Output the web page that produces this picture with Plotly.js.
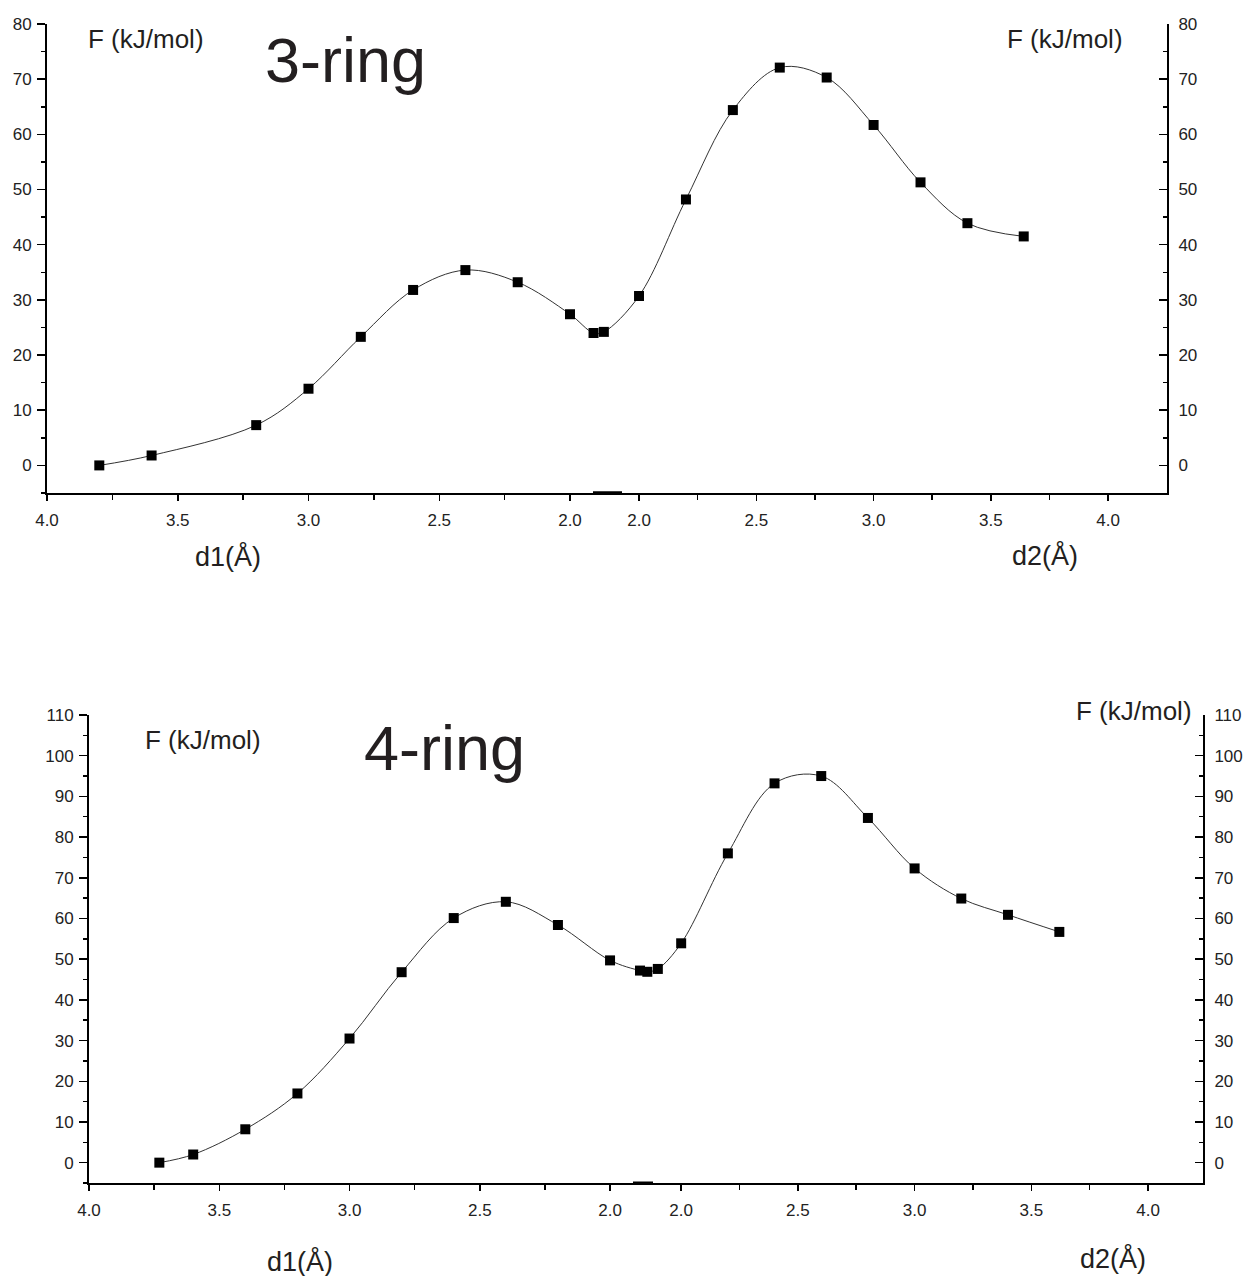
<!DOCTYPE html>
<html>
<head>
<meta charset="utf-8">
<script src="https://cdn.plot.ly/plotly-3.0.1.min.js"></script>
<style>html,body{margin:0;padding:0;background:#fff}#chart{width:1248px;height:1276px}</style>
</head>
<body>
<div id="chart"></div>
<script>
// ---- data: 3-ring ----
const ring3_d1 = [3.8, 3.6, 3.2, 3.0, 2.8, 2.6, 2.4, 2.2, 2.0, 1.91];
const ring3_F1 = [0.0, 1.8, 7.3, 13.9, 23.3, 31.8, 35.4, 33.2, 27.4, 24.0];
const ring3_d2 = [1.85, 2.0, 2.2, 2.4, 2.6, 2.8, 3.0, 3.2, 3.4, 3.64];
const ring3_F2 = [24.2, 30.7, 48.2, 64.4, 72.1, 70.3, 61.7, 51.3, 43.9, 41.5];
// ---- data: 4-ring ----
const ring4_d1 = [3.73, 3.6, 3.4, 3.2, 3.0, 2.8, 2.6, 2.4, 2.2, 2.0, 1.885];
const ring4_F1 = [0.0, 2.0, 8.2, 17.0, 30.5, 46.8, 60.1, 64.1, 58.4, 49.7, 47.2];
const ring4_d2 = [1.855, 1.90, 2.0, 2.2, 2.4, 2.6, 2.8, 3.0, 3.2, 3.4, 3.62];
const ring4_F2 = [46.9, 47.6, 53.9, 76.0, 93.2, 95.0, 84.7, 72.3, 64.9, 60.9, 56.7];
// ---- tick labels ----
const d1Ticks = [4.0, 3.5, 3.0, 2.5, 2.0];
const d2Ticks = [2.0, 2.5, 3.0, 3.5, 4.0];
const d1Minor = [3.75, 3.25, 2.75, 2.25];
const d2Minor = [2.25, 2.75, 3.25, 3.75];
const panelTitles = ["3-ring", "4-ring"];
const yLabel = "F (kJ/mol)";
const xLabel1 = "d1(Å)";
const xLabel2 = "d2(Å)";

// broken-axis geometry (left segment in d1 units, right segment scaled)
const geo = [
  {start: 4.0, gap: 2.264, r: 0.897, end: 4.283},
  {start: 4.0, gap: 2.273, r: 0.896, end: 4.276}
];
const sLeft = (d, g) => g.start - d;
const sRight = (d, g) => g.gap + (d - 2.0) * g.r;

const W = 1248, H = 1276;
const px = x => x / W, py = y => 1 - y / H;
const FONT = "Liberation Sans, Arial, sans-serif";

function curve(d1, F1, d2, F2, g, xa, ya) {
  const xs = d1.map(d => sLeft(d, g)).concat(d2.map(d => sRight(d, g)));
  const ys = F1.concat(F2);
  return [
    {x: xs, y: ys, xaxis: xa, yaxis: ya, mode: 'lines', type: 'scatter',
     line: {shape: 'spline', smoothing: 1, color: '#333', width: 1}, hoverinfo: 'skip', showlegend: false},
    {x: xs, y: ys, xaxis: xa, yaxis: ya, mode: 'markers', type: 'scatter',
     marker: {symbol: 'square', size: 10, color: '#000'}, showlegend: false}
  ];
}

function xAxis(g, domain, anchor) {
  const tv = d1Ticks.map(d => sLeft(d, g)).concat(d2Ticks.map(d => sRight(d, g)));
  const tt = d1Ticks.concat(d2Ticks).map(v => v.toFixed(1));
  const mv = d1Minor.map(d => sLeft(d, g)).concat(d2Minor.map(d => sRight(d, g)));
  return {
    domain: domain, anchor: anchor, range: [0, g.end], showgrid: false, zeroline: false,
    showline: true, linecolor: '#000', linewidth: 2,
    tickmode: 'array', tickvals: tv, ticktext: tt, ticks: 'outside', ticklen: 6, tickwidth: 1.5, tickcolor: '#000',
    ticklabelstandoff: 5,
    minor: {tickmode: 'array', tickvals: mv, ticks: 'outside', ticklen: 5, tickwidth: 1.5, tickcolor: '#000'},
    tickfont: {family: FONT, size: 17, color: '#222'}
  };
}
function yAxis(range, domain, anchor, side, overlay) {
  const a = {
    range: range, anchor: anchor, side: side, showgrid: false, zeroline: false,
    showline: true, linecolor: '#000', linewidth: 2,
    tickmode: 'linear', tick0: 0, dtick: 10,
    ticks: side === 'left' ? 'outside' : 'inside', ticklen: 8, tickwidth: 1.5, tickcolor: '#000',
    minor: {dtick: 5, ticks: side === 'left' ? 'outside' : 'inside', ticklen: 4, tickwidth: 1.5, tickcolor: '#000'},
    tickfont: {family: FONT, size: 17, color: '#222'},
    ticklabelstandoff: side === 'left' ? 2 : 6
  };
  if (overlay) a.overlaying = overlay; else a.domain = domain;
  return a;
}

const data = []
  .concat(curve(ring3_d1, ring3_F1, ring3_d2, ring3_F2, geo[0], 'x', 'y'))
  .concat(curve(ring4_d1, ring4_F1, ring4_d2, ring4_F2, geo[1], 'x2', 'y2'))
  .concat([
    {x: [], y: [], xaxis: 'x', yaxis: 'y3', type: 'scatter', mode: 'markers', showlegend: false},
    {x: [], y: [], xaxis: 'x2', yaxis: 'y4', type: 'scatter', mode: 'markers', showlegend: false}
  ]);

function ann(text, x, y, size, xanchor) {
  return {text: text, x: px(x), y: py(y), xref: 'paper', yref: 'paper', showarrow: false,
          xanchor: xanchor || 'left', yanchor: 'middle', font: {family: FONT, size: size, color: '#231f20'}};
}

const layout = {
  width: W, height: H, margin: {l: 0, r: 0, t: 0, b: 0},
  paper_bgcolor: '#fff', plot_bgcolor: 'rgba(0,0,0,0)', showlegend: false,
  xaxis: xAxis(geo[0], [px(47), px(1167)], 'y'),
  yaxis: yAxis([-5, 80], [py(493), py(24)], 'x', 'left'),
  yaxis3: yAxis([-5, 80], null, 'x', 'right', 'y'),
  xaxis2: xAxis(geo[1], [px(89), px(1203)], 'y2'),
  yaxis2: yAxis([-5, 110], [py(1183), py(715)], 'x2', 'left'),
  yaxis4: yAxis([-5, 110], null, 'x2', 'right', 'y2'),
  annotations: [
    ann(yLabel, 86, 39, 26),
    ann(panelTitles[0], 263, 60, 63),
    ann(yLabel, 1005, 39, 26),
    ann(xLabel1, 193, 557, 27),
    ann(xLabel2, 1010, 555, 27),
    ann(yLabel, 143, 740, 26),
    ann(panelTitles[1], 362, 748, 63),
    ann(yLabel, 1074, 711, 26),
    ann(xLabel1, 265, 1261, 27),
    ann(xLabel2, 1078, 1258, 27)
  ],
  shapes: [
    {type: 'line', xref: 'paper', yref: 'paper', x0: px(593), x1: px(622), y0: py(493), y1: py(493), line: {color: '#000', width: 3.5}},
    {type: 'line', xref: 'paper', yref: 'paper', x0: px(633), x1: px(653), y0: py(1183), y1: py(1183), line: {color: '#000', width: 3}}
  ]
};

Plotly.newPlot('chart', data, layout, {staticPlot: true, displayModeBar: false});
</script>
</body>
</html>
